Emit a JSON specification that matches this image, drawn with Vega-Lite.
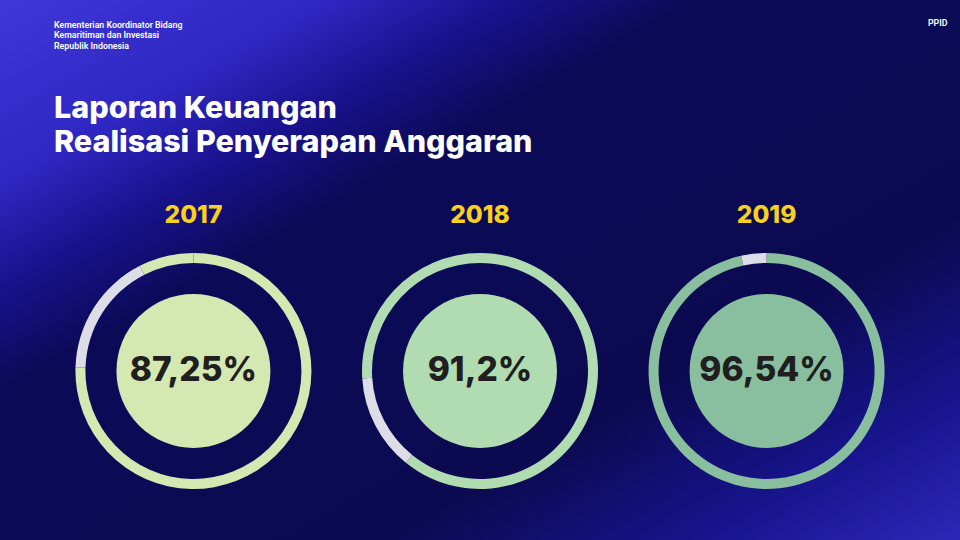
{
  "$schema": "https://vega.github.io/schema/vega-lite/v6.json",
  "width": 960,
  "height": 540,
  "padding": 0,
  "autosize": {"type": "none"},
  "background": "#0c0a55",
  "view": {
    "stroke": null,
    "fill": {
      "gradient": "linear",
      "x1": 0, "y1": 0, "x2": 1, "y2": 1,
      "stops": [
        {"offset": 0, "color": "#3f37d8"},
        {"offset": 0.17, "color": "#2f27c2"},
        {"offset": 0.27, "color": "#18128c"},
        {"offset": 0.36, "color": "#0c0a58"},
        {"offset": 0.7, "color": "#0b0a50"},
        {"offset": 0.86, "color": "#17148c"},
        {"offset": 1, "color": "#2d27b8"}
      ]
    }
  },
  "title": {
    "text": ["Kementerian Koordinator Bidang", "Kemaritiman dan Investasi", "Republik Indonesia"],
    "subtitle": ["Laporan Keuangan", "Realisasi Penyerapan Anggaran"],
    "anchor": "start",
    "frame": "group",
    "dx": 54,
    "offset": -158,
    "color": "white",
    "font": "Roboto",
    "fontSize": 8.8,
    "fontWeight": 600,
    "lineHeight": 10.5,
    "subtitleColor": "white",
    "subtitleFont": "Inter",
    "subtitleFontSize": 30.5,
    "subtitleFontWeight": 800,
    "subtitleLineHeight": 34,
    "subtitlePadding": 43
  },
  "datasets": {
    "realisasi": [
      {"tahun": "2017", "persen": 87.25, "label": "87,25%"},
      {"tahun": "2018", "persen": 91.2, "label": "91,2%"},
      {"tahun": "2019", "persen": 96.54, "label": "96,54%"}
    ],
    "busur": [
      {"tahun": "2017", "bagian": "realisasi", "mulai": 0, "akhir": 75.5},
      {"tahun": "2017", "bagian": "sisa", "mulai": 75.5, "akhir": 92.5},
      {"tahun": "2017", "bagian": "realisasi", "mulai": 92.5, "akhir": 100},
      {"tahun": "2018", "bagian": "realisasi", "mulai": 0, "akhir": 60.8},
      {"tahun": "2018", "bagian": "sisa", "mulai": 60.8, "akhir": 74},
      {"tahun": "2018", "bagian": "realisasi", "mulai": 74, "akhir": 100},
      {"tahun": "2019", "bagian": "realisasi", "mulai": 0, "akhir": 96.54},
      {"tahun": "2019", "bagian": "sisa", "mulai": 96.54, "akhir": 100}
    ]
  },
  "encoding": {
    "x": {
      "field": "tahun",
      "type": "ordinal",
      "scale": {"type": "point", "padding": 0.675, "domain": ["2017", "2018", "2019"]},
      "axis": null
    }
  },
  "layer": [
    {
      "data": {"name": "busur"},
      "mark": {"type": "arc", "radius": 118, "radius2": 108},
      "encoding": {
        "theta": {"field": "mulai", "type": "quantitative", "stack": null, "scale": {"domain": [0, 100]}},
        "theta2": {"field": "akhir"},
        "y": {
          "datum": 31.3,
          "type": "quantitative",
          "scale": {"domain": [0, 100]},
          "axis": {
            "orient": "right",
            "title": "PPID",
            "titleAngle": 0,
            "titleX": -13,
            "titleY": 22,
            "titleAlign": "right",
            "titleBaseline": "middle",
            "titleColor": "white",
            "titleFont": "Roboto",
            "titleFontSize": 8.8,
            "titleFontWeight": 600,
            "labels": false,
            "ticks": false,
            "domain": false,
            "grid": false
          }
        },
        "color": {
          "condition": {"test": "datum.bagian == 'sisa'", "value": "#dddde8"},
          "field": "tahun",
          "type": "nominal",
          "scale": {"domain": ["2017", "2018", "2019"], "range": ["#d5e8b1", "#b1dbb0", "#89bf9f"]},
          "legend": null
        }
      }
    },
    {
      "data": {"name": "realisasi"},
      "mark": {"type": "circle", "size": 23700, "opacity": 1},
      "encoding": {
        "y": {"datum": 31.3, "type": "quantitative"},
        "color": {"field": "tahun", "type": "nominal", "legend": null}
      }
    },
    {
      "data": {"name": "realisasi"},
      "mark": {"type": "text", "font": "Inter", "fontWeight": 800, "fontSize": 33.5, "color": "#201e1e", "baseline": "middle", "align": "center"},
      "encoding": {
        "y": {"datum": 31.3, "type": "quantitative"},
        "text": {"field": "label"}
      }
    },
    {
      "data": {"name": "realisasi"},
      "mark": {"type": "text", "font": "Inter", "fontWeight": 800, "fontSize": 24.5, "color": "#f7d11e", "baseline": "middle", "align": "center"},
      "encoding": {
        "y": {"datum": 60, "type": "quantitative"},
        "text": {"field": "tahun"}
      }
    }
  ]
}
